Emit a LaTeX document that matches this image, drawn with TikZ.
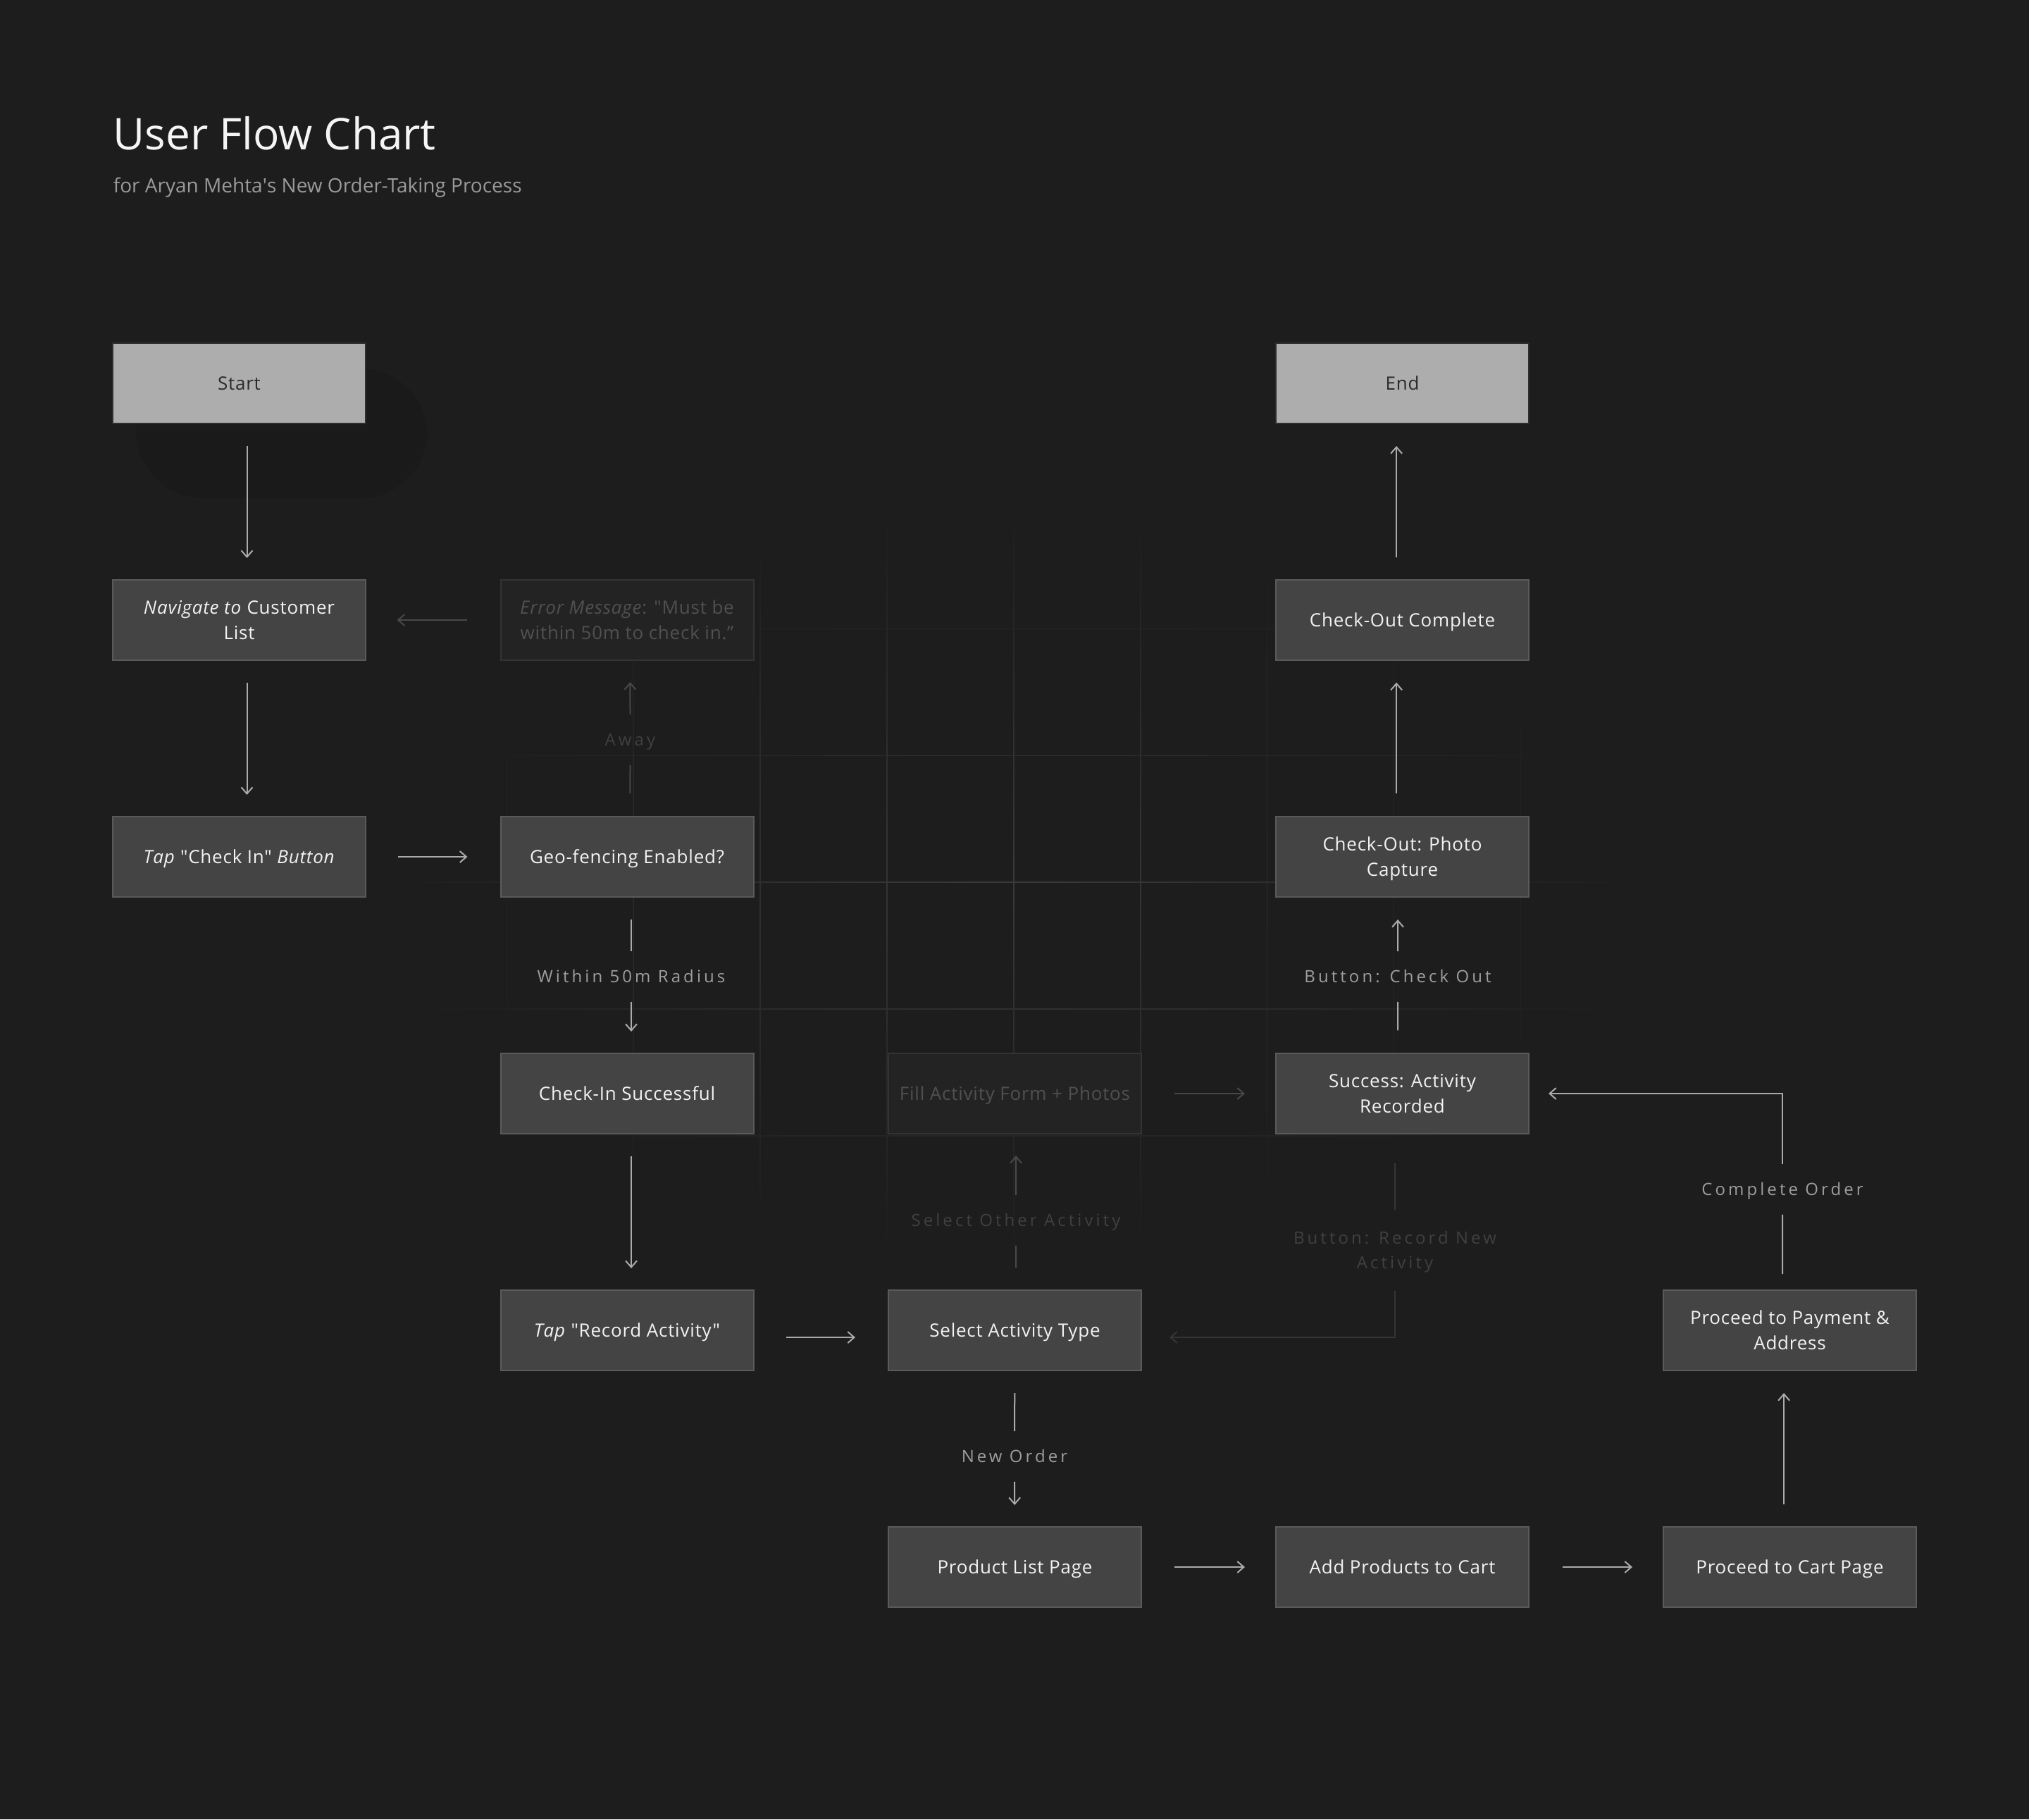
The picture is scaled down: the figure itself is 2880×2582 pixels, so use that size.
\documentclass[tikz,border=0pt]{standalone}
\usepackage{fontspec}
\setmainfont{Open Sans}
\newfontfamily\boxfont[LetterSpace=3]{Open Sans}
\newfontfamily\lblfont[LetterSpace=17]{Open Sans}
\usetikzlibrary{arrows.meta,fadings,calc}

\definecolor{bg}{HTML}{1D1D1D}
\definecolor{gridcol}{HTML}{3A3A3A}
\definecolor{shadowcol}{HTML}{1A1A1A}
\definecolor{boxfill}{HTML}{444444}
\definecolor{boxline}{HTML}{5A5A5A}
\definecolor{termfill}{HTML}{ADADAD}
\definecolor{termline}{HTML}{2E2E2E}
\definecolor{termtext}{HTML}{2A2A2A}
\definecolor{boxtext}{HTML}{F2F2F2}
\definecolor{ghostfill}{HTML}{232323}
\definecolor{ghostline}{HTML}{333333}
\definecolor{ghosttext}{HTML}{505050}
\definecolor{lbltext}{HTML}{9E9E9E}
\definecolor{ghostlbltext}{HTML}{404040}
\definecolor{arrcol}{HTML}{ABABAB}
\definecolor{ghostarrcol}{HTML}{484848}
\definecolor{darkarrcol}{HTML}{353535}
\definecolor{titlecol}{HTML}{F5F5F5}
\definecolor{subcol}{HTML}{9A9A9A}

\tikzfading[name=gridfade, inner color=transparent!0, outer color=transparent!100]

\tikzset{
  flowbox/.style={draw=boxline, fill=boxfill, line width=0.5pt,
    minimum width=89.75pt, minimum height=28.5pt, inner sep=0pt,
    text height=4.64pt, text depth=0pt,
    align=center, text=boxtext, font=\boxfont\fontsize{6.5pt}{9pt}\selectfont},
  twoline/.style={text height=13.64pt, text depth=0pt},
  termbox/.style={flowbox, fill=termfill, draw=termline, text=termtext},
  ghostbox/.style={flowbox, fill=ghostfill, draw=ghostline, text=ghosttext},
  flowlbl/.style={inner sep=0pt, minimum height=17.5pt, align=center,
    text height=4.28pt, text depth=0pt,
    text=lbltext, font=\lblfont\fontsize{6pt}{8.75pt}\selectfont},
  ghostlbl/.style={flowlbl, text=ghostlbltext},
  flowseg/.style={draw=arrcol, line width=0.5pt},
  flowarr/.style={flowseg, -{Straight Barb[length=2.3pt,width=4pt]}},
  ghostseg/.style={draw=ghostarrcol, line width=0.5pt},
  ghostarr/.style={ghostseg, -{Straight Barb[length=2.3pt,width=4pt]}},
  darkseg/.style={draw=darkarrcol, line width=0.5pt},
  darkarr/.style={darkseg, -{Straight Barb[length=2.3pt,width=4pt]}},
}

\begin{document}
\begin{tikzpicture}[x=0.25pt,y=-0.25pt]
\useasboundingbox (0,0) rectangle (2880,2582);
\fill[bg] (0,0) rectangle (2880,2582);

% faded background grid
\path[draw=gridcol, line width=0.4pt, path fading=gridfade, fit fading=true]
  \foreach \x in {540,720,...,2340} {(\x,712) -- (\x,1792)}
  \foreach \y in {712,892,...,1792} {(540,\y) -- (2340,\y)};

% shadow blob behind Start
\fill[shadowcol, rounded corners=24pt] (193,523) rectangle (607,707);

% title
\node[anchor=base west, inner sep=0pt, text=titlecol,
  font=\fontsize{15.5pt}{18pt}\selectfont] (title) at (160,212) {User Flow Chart};
\node[anchor=base west, inner sep=0pt, text=subcol,
  font=\fontsize{7pt}{9pt}\selectfont] (subtitle) at (160,273)
  {for Aryan Mehta\textquotesingle s New Order-Taking Process};

% boxes
\node[termbox] (start) at (339.5,544) {Start};
\node[flowbox, twoline] (nav) at (339.5,880) {\textit{Navigate to} Customer\\List};
\node[flowbox] (tapin) at (339.5,1216) {\textit{Tap} "Check In" \textit{Button}};
\node[ghostbox, twoline] (err) at (890,880) {\textit{Error Message}: "Must be\\within 50m to check in.”};
\node[flowbox] (geo) at (890,1216) {Geo-fencing Enabled?};
\node[flowbox] (chkin) at (890,1552) {Check-In Successful};
\node[flowbox] (taprec) at (890,1888) {\textit{Tap} "Record Activity"};
\node[ghostbox] (fill) at (1440.5,1552) {Fill Activity Form + Photos};
\node[flowbox] (sel) at (1440.5,1888) {Select Activity Type};
\node[flowbox] (prod) at (1440.5,2224) {Product List Page};
\node[termbox] (end) at (1990.5,544) {End};
\node[flowbox] (coc) at (1990.5,880) {Check-Out Complete};
\node[flowbox, twoline] (photo) at (1990.5,1216) {Check-Out: Photo\\Capture};
\node[flowbox, twoline] (succ) at (1990.5,1552) {Success: Activity\\Recorded};
\node[flowbox] (add) at (1990.5,2224) {Add Products to Cart};
\node[flowbox, twoline] (pay) at (2540.5,1888) {Proceed to Payment \&\\Address};
\node[flowbox] (cart) at (2540.5,2224) {Proceed to Cart Page};

% connector labels
\node[flowlbl] (lwithin) at (896,1386) {Within 50m Radius};
\node[ghostlbl] (laway) at (894.5,1050) {Away};
\node[ghostlbl] (lother) at (1442,1732) {Select Other Activity};
\node[flowlbl] (lcheckout) at (1984,1386) {Button: Check Out};
\node[ghostlbl, minimum height=28.25pt, text height=13.03pt, text depth=0pt] (lrec) at (1980,1774.5) {Button: Record New\\Activity};
\node[flowlbl] (lcomplete) at (2530,1688) {Complete Order};
\node[flowlbl] (lneworder) at (1440,2067) {New Order};

\coordinate (reccorner) at (1980,1898);
\coordinate (cocorner) at (2530,1552);

% connectors
\draw[flowarr, shorten <=7.75pt, shorten >=7.5pt] ([xshift=2.75pt]start.south) -- ([xshift=2.75pt]nav.north);
\draw[flowarr, shorten <=7.75pt, shorten >=7.5pt] ([xshift=2.75pt]nav.south) -- ([xshift=2.75pt]tapin.north);
\draw[flowarr, shorten <=11.25pt, shorten >=11.5pt] (tapin.east) -- (geo.west);
\draw[ghostseg, shorten <=8pt] ([xshift=1.1pt]geo.north) -- (laway.south);
\draw[ghostarr, shorten >=7.5pt] (laway.north) -- ([xshift=1.1pt]err.south);
\draw[ghostarr, shorten <=11.75pt, shorten >=10.9pt] (err.west) -- (nav.east);
\draw[flowseg, shorten <=7.75pt] ([xshift=1.5pt]geo.south) -- (lwithin.north);
\draw[flowarr, shorten >=7.5pt] (lwithin.south) -- ([xshift=1.5pt]chkin.north);
\draw[flowarr, shorten <=7.75pt, shorten >=7.5pt] ([xshift=1.5pt]chkin.south) -- ([xshift=1.5pt]taprec.north);
\draw[flowarr, shorten <=11.25pt, shorten >=11.5pt] ([yshift=-2.5pt]taprec.east) -- ([yshift=-2.5pt]sel.west);
\draw[ghostseg, shorten <=7.75pt] ([xshift=0.4pt]sel.north) -- (lother.south);
\draw[ghostarr, shorten >=7.5pt] (lother.north) -- ([xshift=0.4pt]fill.south);
\draw[ghostarr, shorten <=11.5pt, shorten >=10.75pt] (fill.east) -- (succ.west);
\draw[darkseg, shorten <=10.25pt] ([xshift=-2.6pt]succ.south) -- (lrec.north);
\draw[darkarr, shorten >=9.75pt] (lrec.south) -- (reccorner) -- ([yshift=-2.5pt]sel.east);
\draw[flowseg, shorten <=7.9pt] ([xshift=-1.6pt]succ.north) -- (lcheckout.south);
\draw[flowarr, shorten >=7.75pt] (lcheckout.north) -- ([xshift=-1.6pt]photo.south);
\draw[flowarr, shorten <=7.9pt, shorten >=7.65pt] ([xshift=-2.1pt]photo.north) -- ([xshift=-2.1pt]coc.south);
\draw[flowarr, shorten <=7.75pt, shorten >=7.75pt] ([xshift=-2.1pt]coc.north) -- ([xshift=-2.1pt]end.south);
\draw[flowarr, shorten <=11.5pt, shorten >=10.75pt] (prod.east) -- (add.west);
\draw[flowarr, shorten <=11.75pt, shorten >=10.75pt] (add.east) -- (cart.west);
\draw[flowarr, shorten <=7.75pt, shorten >=7.75pt] ([xshift=-2.1pt]cart.north) -- ([xshift=-2.1pt]pay.south);
\draw[flowseg, shorten <=5.5pt] ([xshift=-2.6pt]pay.north) -- (lcomplete.south);
\draw[flowarr, shorten >=6.75pt] (lcomplete.north) -- (cocorner) -- (succ.east);
\draw[flowseg, shorten <=7.75pt] (sel.south) -- (lneworder.north);
\draw[flowarr, shorten >=7.5pt] (lneworder.south) -- (prod.north);
\end{tikzpicture}
\end{document}
